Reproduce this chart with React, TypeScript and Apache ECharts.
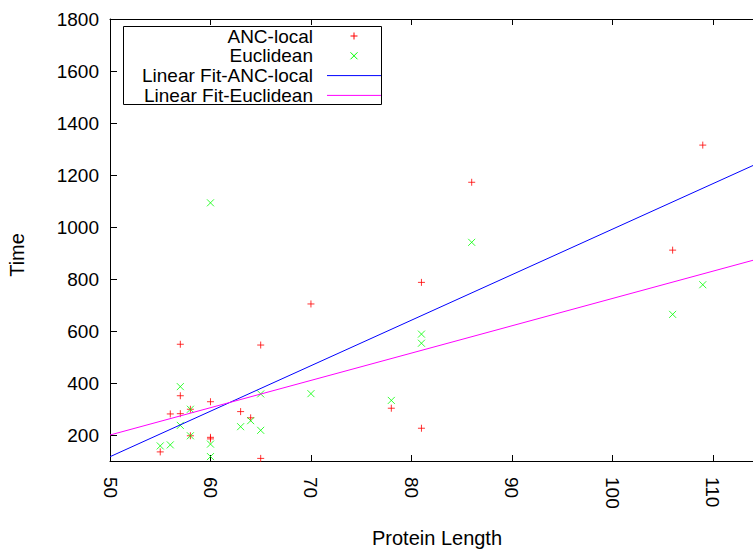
import React, { useEffect, useRef } from 'react';
import * as echarts from 'echarts';

// ANC-local points (Protein Length, Time)
const ancX = [55, 56, 57, 57, 57, 58, 58, 60, 60, 60, 63, 64, 65, 65, 70, 78, 81, 81, 86, 106, 109];
const ancY = [135, 281, 549, 351, 282, 299, 197, 328, 191, 185, 290, 266, 110, 546, 704, 303, 226, 787, 1172, 911, 1315];

// Euclidean points
const eucX = [55, 56, 57, 57, 58, 58, 60, 60, 60, 63, 64, 65, 65, 70, 78, 81, 81, 86, 106, 109];
const eucY = [158, 162, 386, 237, 299, 197, 165, 117, 1093, 232, 255, 218, 358, 359, 333, 588, 553, 941, 664, 778];

// Linear fit endpoints
const fitAncX = [50, 114];
const fitAncY = [116.5, 1236.5];
const fitEucX = [50, 114];
const fitEucY = [200, 872];

const legendLabels = ['ANC-local', 'Euclidean', 'Linear Fit-ANC-local', 'Linear Fit-Euclidean'];
const colors = ['#ff0000', '#00ff00', '#0000ff', '#ff00ff'];

const FONT = '"Liberation Sans", Arial, Helvetica, sans-serif';

const zip = (xs: number[], ys: number[]) => xs.map((x, i) => [x, ys[i]]);

export default function App() {
  const ref = useRef<HTMLDivElement>(null);
  useEffect(() => {
    document.body.style.margin = '0';
    const chart = echarts.init(ref.current!, null, { renderer: 'svg' });
    const rowY = [36, 55.8, 75.6, 95.4];
    const legendEls: any[] = [
      {
        type: 'rect',
        z: 100,
        shape: { x: 123.5, y: 26.5, width: 258, height: 78 },
        style: { fill: '#fff', stroke: '#000', lineWidth: 1 },
      },
    ];
    legendLabels.forEach((t, i) => {
      legendEls.push({
        type: 'text',
        z: 101,
        x: 313,
        y: rowY[i],
        style: {
          text: t,
          fill: '#000',
          fontSize: 19,
          lineHeight: 18,
          fontFamily: FONT,
          align: 'right',
          textAlign: 'right',
          verticalAlign: 'middle',
          textVerticalAlign: 'middle',
        },
      });
    });
    const cx = 354;
    legendEls.push(
      { type: 'line', z: 101, shape: { x1: cx - 3.5, y1: rowY[0], x2: cx + 3.5, y2: rowY[0] }, style: { stroke: colors[0], lineWidth: 1 } },
      { type: 'line', z: 101, shape: { x1: cx, y1: rowY[0] - 3.5, x2: cx, y2: rowY[0] + 3.5 }, style: { stroke: colors[0], lineWidth: 1 } },
      { type: 'line', z: 101, shape: { x1: cx - 3.5, y1: rowY[1] - 3.5, x2: cx + 3.5, y2: rowY[1] + 3.5 }, style: { stroke: colors[1], lineWidth: 1 } },
      { type: 'line', z: 101, shape: { x1: cx - 3.5, y1: rowY[1] + 3.5, x2: cx + 3.5, y2: rowY[1] - 3.5 }, style: { stroke: colors[1], lineWidth: 1 } },
      { type: 'line', z: 101, shape: { x1: 327, y1: rowY[2], x2: 381, y2: rowY[2] }, style: { stroke: colors[2], lineWidth: 1 } },
      { type: 'line', z: 101, shape: { x1: 327, y1: rowY[3], x2: 381, y2: rowY[3] }, style: { stroke: colors[3], lineWidth: 1 } }
    );

    const option: any = {
      animation: false,
      backgroundColor: '#fff',
      textStyle: { fontFamily: FONT },
      grid: { left: 110, right: 0, top: 19, bottom: 88 },
      xAxis: [
        {
          type: 'value',
          min: 50,
          max: 114,
          interval: 10,
          position: 'bottom',
          axisLine: { show: true, lineStyle: { color: '#000', width: 1 } },
          axisTick: { show: true, inside: true, length: 6, lineStyle: { color: '#000' } },
          axisLabel: { rotate: -90, margin: 16, fontSize: 19, color: '#000', fontFamily: FONT, showMaxLabel: false, formatter: (v: number) => String(v) },
          splitLine: { show: false },
        },
        {
          type: 'value',
          min: 50,
          max: 114,
          interval: 10,
          position: 'top',
          axisLine: { show: true, onZero: false, lineStyle: { color: '#000', width: 1 } },
          axisTick: { show: true, inside: true, length: 6, lineStyle: { color: '#000' } },
          axisLabel: { show: false },
          splitLine: { show: false },
        },
      ],
      yAxis: {
        type: 'value',
        min: 100,
        max: 1800,
        splitNumber: 8,
        axisLine: { show: true, onZero: false, lineStyle: { color: '#000', width: 1 } },
        axisTick: { show: true, inside: true, length: 7, lineStyle: { color: '#000' } },
        axisLabel: { margin: 11, fontSize: 19, color: '#000', fontFamily: FONT, showMinLabel: false, formatter: (v: number) => String(v) },
        splitLine: { show: false },
      },
      series: [
        {
          name: 'ANC-local',
          type: 'scatter',
          xAxisIndex: 0,
          data: zip(ancX, ancY),
          symbol: 'path://M0,5L10,5M5,0L5,10',
          symbolSize: 7,
          itemStyle: { color: colors[0], borderColor: colors[0], borderWidth: 1 },
        },
        {
          name: 'Euclidean',
          type: 'scatter',
          xAxisIndex: 0,
          data: zip(eucX, eucY),
          symbol: 'path://M0,0L10,10M10,0L0,10',
          symbolSize: 7,
          itemStyle: { color: colors[1], borderColor: colors[1], borderWidth: 1 },
        },
        {
          name: 'Linear Fit-ANC-local',
          type: 'line',
          xAxisIndex: 0,
          data: zip(fitAncX, fitAncY),
          symbol: 'none',
          lineStyle: { color: colors[2], width: 1 },
        },
        {
          name: 'Linear Fit-Euclidean',
          type: 'line',
          xAxisIndex: 0,
          data: zip(fitEucX, fitEucY),
          symbol: 'none',
          lineStyle: { color: colors[3], width: 1 },
        },
      ],
      graphic: [
        ...legendEls,
        {
          type: 'text',
          x: 17,
          y: 255,
          rotation: Math.PI / 2,
          style: {
            text: 'Time',
            fill: '#000',
            fontSize: 20,
            fontFamily: FONT,
            align: 'center',
            textAlign: 'center',
            verticalAlign: 'middle',
            textVerticalAlign: 'middle',
          },
        },
        {
          type: 'text',
          x: 437,
          y: 538,
          style: {
            text: 'Protein Length',
            fill: '#000',
            fontSize: 20,
            lineHeight: 20,
            fontFamily: FONT,
            align: 'center',
            textAlign: 'center',
            verticalAlign: 'middle',
            textVerticalAlign: 'middle',
          },
        },
      ],
    };
    chart.setOption(option);
    return () => chart.dispose();
  }, []);
  return <div ref={ref} style={{ width: 753, height: 549 }} />;
}
